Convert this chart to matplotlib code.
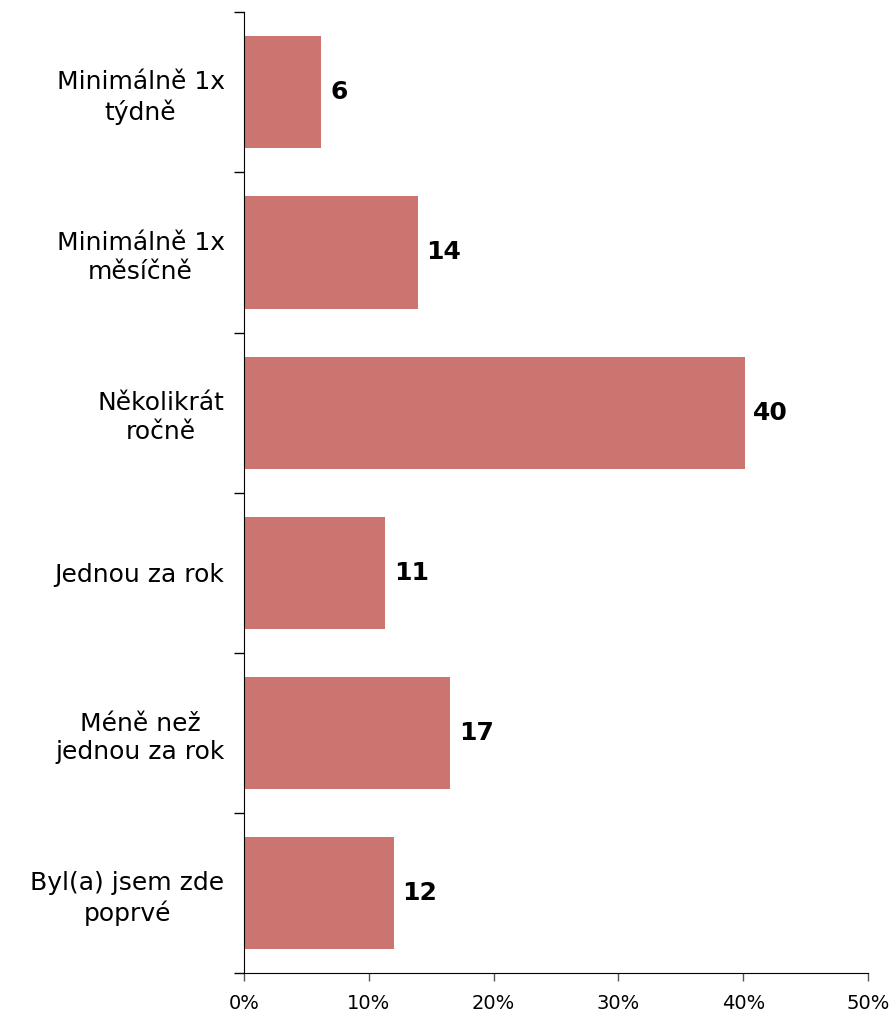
import matplotlib
matplotlib.use('Agg')
import matplotlib.pyplot as plt
import numpy as np

categorias = ['Minimálně 1x\ntýdně', 'Minimálně 1x\nměsíčně', 'Několikrát\nročně',
              'Jednou za rok', 'Méně než\njednou za rok', 'Byl(a) jsem zde\npoprvé']
valores = [6.2, 13.9, 40.1, 11.3, 16.5, 12.0]
rotulos = ['6', '14', '40', '11', '17', '12']
xticks = [0, 10, 20, 30, 40, 50]

plt.rcParams['font.family'] = ['DejaVu Sans']

fig = plt.figure(figsize=(8.94, 10.14), dpi=100)
ax = fig.add_axes([0.273, 0.040, 0.698, 0.948])

y = np.arange(len(categorias))
ax.barh(y, valores, height=0.70, color='#CC7570', edgecolor='none')
for yi, v, r in zip(y, valores, rotulos):
    ax.text(v + 0.7, yi, r, va='center', ha='left', fontsize=18, fontweight='bold')

ax.set_ylim(len(categorias) - 0.5, -0.5)
ax.set_xlim(0, 50)
ax.set_xticks(xticks)
ax.set_xticklabels([f'{t}%' for t in xticks], fontsize=14)

# ticks between categories
ax.set_yticks(np.arange(len(categorias) + 1) - 0.5)
ax.set_yticklabels([])
ax.set_yticks(y, minor=True)
lbls = ax.set_yticklabels(categorias, minor=True, fontsize=18, linespacing=1.25)
for t in lbls:
    t.set_multialignment('center')
ax.tick_params(axis='y', which='minor', length=0, pad=14)
ax.tick_params(axis='y', which='major', length=7, width=1, direction='out')
ax.tick_params(axis='x', length=6, width=1, direction='out', pad=9, colors='#555555', labelcolor='black')

for s in ['top', 'right']:
    ax.spines[s].set_visible(False)

fig.savefig('out.png', dpi=100)
